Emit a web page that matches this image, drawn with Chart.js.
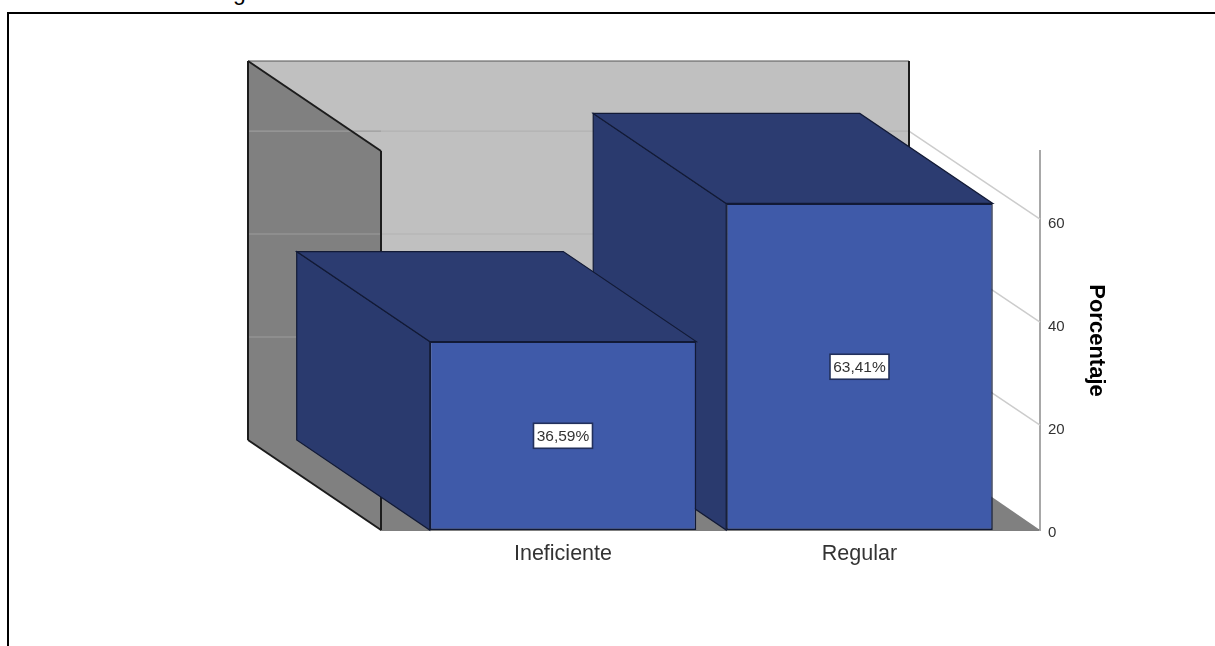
<!DOCTYPE html>
<html lang="es">
<head>
<meta charset="utf-8">
<title>Porcentaje</title>
<script src="https://cdn.jsdelivr.net/npm/chart.js@4"></script>
<style>
  html,body{margin:0;padding:0;background:#fff;overflow:hidden;width:1215px;height:646px}
  #wrap{position:relative;width:1215px;height:646px;overflow:hidden}
  #c{position:absolute;left:0;top:0}
  #frame{position:absolute;left:7px;top:12px;right:-4px;bottom:-4px;border:2px solid #000;box-sizing:border-box}
  #cap{position:absolute;left:233px;top:-20px;font:23px/24px "Liberation Sans",Arial,sans-serif;color:#000}
</style>
</head>
<body>
<div id="wrap">
  <div id="cap">g</div>
  <div id="frame"></div>
  <canvas id="c" width="1215" height="646"></canvas>
</div>
<script>
const categories = ['Ineficiente', 'Regular'];
const percentages = [36.59, 63.41];
const valueLabels = ['36,59%', '63,41%'];
const yTicks = [0, 20, 40, 60];
const axisTitle = 'Porcentaje';

const DEPTH_X = 133, DEPTH_Y = 90;
const FONT = '"Liberation Sans", Arial, sans-serif';
const C = {front:'#3f5aa9', side:'#2a3a6e', top:'#2c3c71', edge:'#121a36',
           wall:'#c0c0c0', shade:'#808080', line:'#1c1c1c',
           gridBack:'#b2b2b2', gridLeft:'#9c9c9c', gridRight:'#cccccc'};

function poly(ctx, pts, fill, stroke, w){
  ctx.beginPath();
  pts.forEach((p,i)=> i ? ctx.lineTo(p[0],p[1]) : ctx.moveTo(p[0],p[1]));
  ctx.closePath();
  if (fill){ ctx.fillStyle = fill; ctx.fill(); }
  if (stroke){ ctx.strokeStyle = stroke; ctx.lineWidth = w || 1; ctx.stroke(); }
}
function seg(ctx, x1,y1,x2,y2, col, w){
  ctx.beginPath(); ctx.moveTo(x1,y1); ctx.lineTo(x2,y2);
  ctx.strokeStyle = col; ctx.lineWidth = w; ctx.stroke();
}

const box3d = {
  id:'box3d',
  beforeDatasetsDraw(chart){
    const {ctx, chartArea:a, scales:{y}} = chart;
    const L=a.left, R=a.right, T=a.top, B=a.bottom;
    const bl=L-DEPTH_X, br=R-DEPTH_X+2, bt=T-DEPTH_Y, bb=B-DEPTH_Y;
    ctx.save();
    poly(ctx, [[bl,bt],[br,bt],[br,bb],[bl,bb]], C.wall);
    poly(ctx, [[bl,bb],[br,bb],[R,B],[L,B]], C.shade);
    poly(ctx, [[bl,bt],[L,T],[L,B],[bl,bb]], C.shade);
    yTicks.filter(v=>v>0).forEach(v=>{
      const py=y.getPixelForValue(v), by=py-DEPTH_Y;
      seg(ctx, bl,by, L,by, C.gridLeft, 1.2);
      seg(ctx, L,by, br,by, C.gridBack, 1.2);
      seg(ctx, br,by, R,py-2, C.gridRight, 1.5);
    });
    seg(ctx, bl,bt, br,bt, '#555', 1.2);
    seg(ctx, br,bt, br,bb, C.line, 2);
    seg(ctx, bl,bt, bl,bb, C.line, 2);
    seg(ctx, bl,bt, L,T, C.line, 2);
    seg(ctx, L,T, L,B, C.line, 2);
    seg(ctx, bl,bb, L,B, C.line, 2);
    const els = chart.getDatasetMeta(0).data;
    for (let i=els.length-1;i>=0;i--){
      const e=els[i], hw=e.width/2, x0=e.x-hw, x1=e.x+hw, t=e.y, b=e.base;
      poly(ctx, [[x0,t],[x0-DEPTH_X,t-DEPTH_Y],[x0-DEPTH_X,b-DEPTH_Y],[x0,b]], C.side, C.edge, 1.2);
      poly(ctx, [[x0,t],[x0-DEPTH_X,t-DEPTH_Y],[x1-DEPTH_X,t-DEPTH_Y],[x1,t]], C.top, C.edge, 1.2);
    }
    ctx.restore();
  },
  afterDatasetsDraw(chart){
    const {ctx} = chart;
    const els = chart.getDatasetMeta(0).data;
    ctx.save();
    ctx.font = '15.5px '+FONT;
    ctx.textAlign='center'; ctx.textBaseline='middle';
    els.forEach((e,i)=>{
      const cy=(e.y+e.base)/2, w=59, h=25;
      ctx.fillStyle='#fff'; ctx.fillRect(e.x-w/2,cy-h/2,w,h);
      ctx.strokeStyle='#22305c'; ctx.lineWidth=1.6; ctx.strokeRect(e.x-w/2,cy-h/2,w,h);
      ctx.fillStyle='#333';
      ctx.fillText(valueLabels[i], e.x, cy+1);
    });
    ctx.restore();
  }
};

new Chart(document.getElementById('c'), {
  type:'bar',
  data:{
    datasets:[{
      data: percentages.map((v,i)=>({x:i,y:v})),
      backgroundColor:C.front, borderColor:C.edge, borderWidth:1.5, borderSkipped:false,
      barPercentage:0.899, categoryPercentage:1
    }]
  },
  plugins:[box3d],
  options:{
    responsive:false, animation:false, devicePixelRatio:1,
    layout:{padding:{left:381, top:151, right:102, bottom:0}},
    plugins:{legend:{display:false}, tooltip:{enabled:false}, title:{display:false}},
    scales:{
      x:{
        type:'linear', offset:false, min:-0.6138, max:1.6088,
        afterBuildTicks(s){ s.ticks = categories.map((_,i)=>({value:i})); },
        afterFit(s){ s.height=116; },
        grid:{display:false, drawTicks:false},
        border:{display:true, color:'#000', width:1.5},
        ticks:{callback:v=>categories[v], padding:11, maxRotation:0, autoSkip:false,
               color:'#333', font:{family:FONT, size:21.5}}
      },
      y:{
        position:'right', min:0, max:73.6,
        afterBuildTicks(s){ s.ticks = yTicks.map(v=>({value:v})); },
        afterFit(s){ s.width=73; },
        grid:{display:false, drawTicks:false},
        border:{display:true, color:'#a8a8a8', width:2},
        ticks:{padding:8, labelOffset:3, color:'#333', font:{family:FONT, size:15}},
        title:{display:true, text:axisTitle, color:'#000', font:{family:FONT, size:22, weight:'bold'}}
      }
    }
  }
});
</script>
</body>
</html>
